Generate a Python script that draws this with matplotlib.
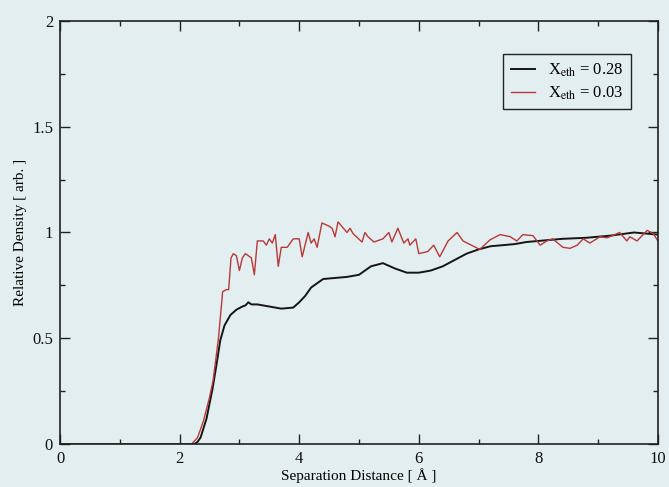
import matplotlib
matplotlib.use("Agg")
import matplotlib.pyplot as plt
from matplotlib.ticker import MultipleLocator

# density profiles vs separation distance
x_028 = [0.0, 2.25, 2.3, 2.35, 2.45, 2.55, 2.62, 2.68, 2.75, 2.85, 2.95, 3.05,
         3.1, 3.15, 3.2, 3.3, 3.5, 3.7, 3.9, 4.0, 4.1, 4.2, 4.4, 4.6, 4.8, 5.0,
         5.2, 5.4, 5.6, 5.8, 6.0, 6.2, 6.4, 6.6, 6.8, 7.0, 7.2, 7.4, 7.6, 7.8,
         8.0, 8.4, 8.8, 9.2, 9.6, 10.0]
y_028 = [0.0, 0.0, 0.01, 0.03, 0.12, 0.26, 0.38, 0.49, 0.56, 0.61, 0.635, 0.65,
         0.655, 0.67, 0.66, 0.66, 0.65, 0.64, 0.645, 0.67, 0.70, 0.74, 0.78,
         0.785, 0.79, 0.80, 0.84, 0.855, 0.83, 0.81, 0.81, 0.82, 0.84, 0.87,
         0.90, 0.92, 0.935, 0.94, 0.945, 0.955, 0.96, 0.97, 0.975, 0.985, 1.0,
         0.99]

x_003 = [0.0, 2.2, 2.3, 2.4, 2.5, 2.56, 2.65, 2.72, 2.78, 2.82, 2.86, 2.9, 2.95,
         3.0, 3.05, 3.1, 3.2, 3.25, 3.3, 3.4, 3.45, 3.5, 3.55, 3.6, 3.65, 3.7,
         3.8, 3.9, 4.0, 4.05, 4.15, 4.2, 4.25, 4.3, 4.38, 4.5, 4.55, 4.6, 4.65,
         4.8, 4.85, 4.9, 5.05, 5.1, 5.15, 5.25, 5.4, 5.5, 5.55, 5.65, 5.75, 5.82,
         5.85, 5.95, 6.0, 6.15, 6.25, 6.35, 6.49, 6.64, 6.74, 7.02, 7.19, 7.36,
         7.53, 7.64, 7.74, 7.91, 8.03, 8.14, 8.24, 8.41, 8.53, 8.65, 8.75, 8.86,
         9.03, 9.15, 9.36, 9.48, 9.53, 9.65, 9.82, 9.92, 10.0]
y_003 = [0.0, 0.0, 0.03, 0.11, 0.22, 0.30, 0.50, 0.72, 0.73, 0.73, 0.88, 0.90,
         0.89, 0.82, 0.88, 0.90, 0.88, 0.80, 0.96, 0.96, 0.94, 0.97, 0.95, 0.99,
         0.84, 0.93, 0.93, 0.97, 0.97, 0.885, 1.0, 0.95, 0.97, 0.93, 1.045, 1.03,
         1.02, 0.98, 1.05, 1.0, 1.02, 0.995, 0.955, 1.0, 0.98, 0.955, 0.97, 1.0,
         0.955, 1.02, 0.95, 0.97, 0.94, 0.97, 0.90, 0.91, 0.94, 0.885, 0.96, 1.0,
         0.96, 0.92, 0.965, 0.99, 0.98, 0.96, 0.99, 0.985, 0.94, 0.96, 0.97,
         0.93, 0.925, 0.94, 0.97, 0.95, 0.98, 0.975, 1.0, 0.96, 0.98, 0.96, 1.01,
         0.995, 0.96]

labels = [r'X$_{\rm eth}$ = 0.28', r'X$_{\rm eth}$ = 0.03']

plt.rcParams['font.family'] = ['Liberation Serif', 'DejaVu Serif']
plt.rcParams['mathtext.fontset'] = 'stix'

bg = '#e3eef0'
fig = plt.figure(figsize=(6.69, 4.87), dpi=100, facecolor=bg)
ax = fig.add_axes([0.0897, 0.0883, 0.8938, 0.8686], facecolor=bg)

ax.plot(x_028, y_028, color='#151515', lw=1.4, label=labels[0])
ax.plot(x_003, y_003, color='#b83838', lw=1.0, label=labels[1])

ax.set_xlim(0, 10)
ax.set_ylim(0, 2)
ax.xaxis.set_major_locator(MultipleLocator(2))
ax.xaxis.set_minor_locator(MultipleLocator(1))
ax.yaxis.set_minor_locator(MultipleLocator(0.25))
ax.set_yticks([0, 0.5, 1, 1.5, 2])
ax.set_yticklabels(['0', '0.5', '1', '1.5', '2'])
ax.tick_params(which='both', direction='in', top=True, right=True,
               labelsize=12, color='#222222', labelcolor='#111111')
ax.tick_params(which='major', length=7, width=1.0)
ax.tick_params(which='minor', length=3.7, width=1.0)
ax.tick_params(axis='y', pad=5)
ax.tick_params(axis='x', pad=5)
for s in ax.spines.values():
    s.set_linewidth(1.2)
    s.set_color('#222222')

ax.set_xlabel('Separation Distance [ Å ]', fontsize=11, labelpad=1)
ax.set_ylabel('Relative Density [ arb. ]', fontsize=11, labelpad=4)

leg = ax.legend(loc='upper right', bbox_to_anchor=(0.969, 0.942), fontsize=12,
                frameon=True, fancybox=False, handlelength=1.45,
                borderpad=0.45, labelspacing=0.35, handletextpad=0.8)
leg.get_frame().set_edgecolor('#222222')
leg.get_frame().set_facecolor(bg)
leg.get_frame().set_linewidth(1.0)
leg.get_frame().set_alpha(1.0)

fig.savefig('out.png', dpi=100, facecolor=bg)
